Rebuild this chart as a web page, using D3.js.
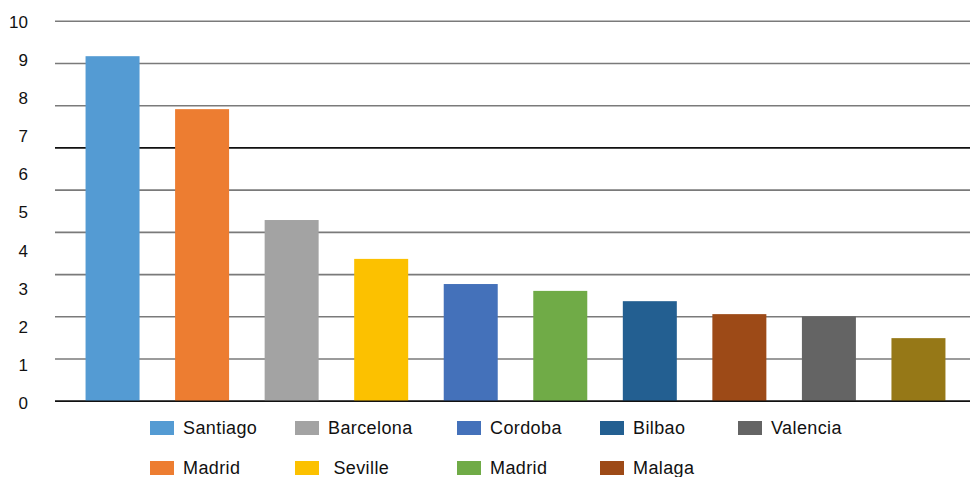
<!DOCTYPE html>
<html>
<head>
<meta charset="utf-8">
<script src="https://cdn.jsdelivr.net/npm/d3@7/dist/d3.min.js"></script>
<style>
  html, body { margin: 0; padding: 0; background: #fff; }
  svg { display: block; font-family: "Liberation Sans", Arial, Helvetica, sans-serif; }
</style>
</head>
<body>
<svg id="chart" width="970" height="477"></svg>
<script>
// City values, one bar each
const cities = ["Santiago", "Madrid", "Barcelona", "Seville", "Cordoba", "Madrid", "Bilbao", "Malaga", "Valencia", ""];
const values = [9.05, 7.66, 4.75, 3.73, 3.07, 2.89, 2.62, 2.28, 2.22, 1.65];
const colors = ["#549bd3", "#ed7d31", "#a3a3a3", "#fcc100", "#4471ba", "#70ab47", "#235f91", "#9d4a17", "#646464", "#967817"];
const tickLabels = ["0", "1", "2", "3", "4", "5", "6", "7", "8", "9", "10"];
const gridLevels = [0, 1, 2, 3, 4, 5, 6, 7, 8, 9];
// Legend entries (the last bar has no entry)
const legendNames = ["Santiago", "Madrid", "Barcelona", "Seville", "Cordoba", "Madrid", "Bilbao", "Malaga", "Valencia"];
const legendText = ["Santiago", "Madrid", "Barcelona", " Seville", "Cordoba", "Madrid", "Bilbao", "Malaga", "Valencia"];

const svg = d3.select("#chart");

const plotLeft = 55, plotRight = 970, plotTop = 21, plotBottom = 401;

// Value scale used for bars and the value labels
const y = d3.scaleLinear().domain([0, 10]).range([plotBottom, 20]);
// Horizontal rules: ten evenly spaced lines across the plot
const grid = d3.scaleLinear().domain([0, 9]).range([plotBottom, plotTop]);

const x = d3.scaleBand()
  .domain(d3.range(cities.length))
  .range([50, 981])
  .paddingInner(0.397)
  .paddingOuter(0.397);

// Grid lines
svg.append("g")
  .selectAll("line")
  .data(gridLevels)
  .join("line")
  .attr("x1", plotLeft)
  .attr("x2", plotRight)
  .attr("y1", d => grid(d) + 0.25)
  .attr("y2", d => grid(d) + 0.25)
  .attr("stroke", d => (d === 0 || d === 6) ? "#111" : "#7a7a7a")
  .attr("stroke-width", 1.6);

// Value labels on the left
svg.append("g")
  .selectAll("text")
  .data(tickLabels)
  .join("text")
  .attr("x", 28)
  .attr("y", (d, i) => y(i) + 2)
  .attr("dy", "0.35em")
  .attr("text-anchor", "end")
  .attr("font-size", 17)
  .attr("fill", "#111")
  .text(d => d);

// Bars
svg.append("g")
  .selectAll("rect")
  .data(values)
  .join("rect")
  .attr("x", (d, i) => x(i))
  .attr("width", x.bandwidth())
  .attr("y", d => y(d))
  .attr("height", d => y(0) - y(d))
  .attr("fill", (d, i) => colors[i]);

// Baseline on top of the bars
svg.append("line")
  .attr("x1", plotLeft)
  .attr("x2", plotRight)
  .attr("y1", y(0) + 0.25)
  .attr("y2", y(0) + 0.25)
  .attr("stroke", "#111")
  .attr("stroke-width", 1.6);

// Legend: two rows, filled column by column
const legendCols = [150, 295, 457, 600, 738];
const legendRows = [428, 468];
const legend = svg.append("g")
  .selectAll("g")
  .data(legendNames)
  .join("g")
  .attr("transform", (d, i) => `translate(${legendCols[Math.floor(i / 2)]},${legendRows[i % 2]})`);

legend.append("rect")
  .attr("x", 0)
  .attr("y", -7)
  .attr("width", 24)
  .attr("height", 14)
  .attr("fill", (d, i) => colors[i]);

legend.append("text")
  .attr("x", 33)
  .attr("y", 0)
  .attr("dy", "0.36em")
  .attr("font-size", 18)
  .attr("letter-spacing", 0.4)
  .attr("fill", "#111")
  .attr("xml:space", "preserve")
  .style("white-space", "pre")
  .text((d, i) => legendText[i]);
</script>
</body>
</html>
